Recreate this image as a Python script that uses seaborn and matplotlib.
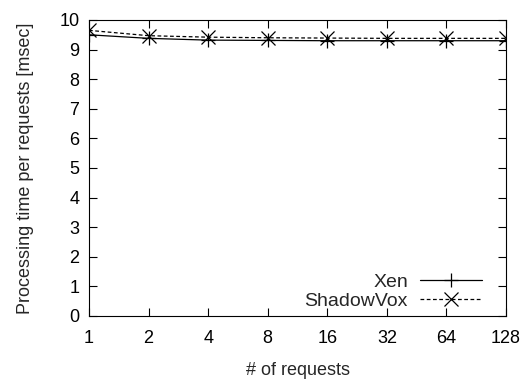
import matplotlib
matplotlib.use("Agg")
import matplotlib.pyplot as plt
import seaborn as sns
import pandas as pd

requests = [1, 2, 4, 8, 16, 32, 64, 128]
xen = [9.50, 9.38, 9.32, 9.31, 9.30, 9.30, 9.30, 9.30]
shadowvox = [9.65, 9.47, 9.42, 9.40, 9.39, 9.38, 9.38, 9.38]
yticks = list(range(0, 11))

sns.set_theme(style="ticks")
plt.rcParams['font.family'] = ['Liberation Sans', 'DejaVu Sans']

df = pd.DataFrame({
    "requests": requests * 2,
    "time": xen + shadowvox,
    "series": ["Xen"] * len(requests) + ["ShadowVox"] * len(requests),
})

fig = plt.figure(figsize=(5.28, 3.81), dpi=100)
ax = fig.add_axes([89/528, 1 - 316/381, (506-89)/528, (316-20)/381])

sns.lineplot(data=df, x="requests", y="time", hue="series", style="series",
             hue_order=["Xen", "ShadowVox"],
             palette={"Xen": "black", "ShadowVox": "black"},
             dashes={"Xen": "", "ShadowVox": (3, 2)},
             markers={"Xen": "+", "ShadowVox": "x"},
             linewidth=0.9, markersize=10, markeredgewidth=0.9,
             markeredgecolor="black",
             ax=ax, legend=False)

ax.set_xscale("log", base=2)
ax.set_xlim(1, 128)
ax.set_ylim(0, 10)
ax.set_xticks(requests)
ax.set_xticklabels([str(r) for r in requests])
ax.xaxis.set_minor_locator(matplotlib.ticker.NullLocator())
ax.set_yticks(yticks)
ax.set_yticklabels([str(t) for t in yticks])

ax.tick_params(direction="in", top=True, right=True, length=6, width=0.8,
               labelsize=13, colors="black")
ax.tick_params(axis="x", pad=10)
ax.tick_params(axis="y", pad=7)
for s in ax.spines.values():
    s.set_linewidth(0.8)
    s.set_color("black")

ax.set_xlabel("# of requests", fontsize=13, labelpad=11)
ax.set_ylabel("Processing time per requests [msec]", fontsize=13, labelpad=18)

from matplotlib.lines import Line2D
handles = [
    Line2D([], [], color="black", lw=0.9, marker="+", markersize=10, markeredgewidth=0.9),
    Line2D([], [], color="black", lw=0.9, ls=(0, (3, 2)), marker="x", markersize=10, markeredgewidth=0.9),
]
ax.legend(handles, ["Xen", "ShadowVox"], loc="lower right", frameon=False,
          markerfirst=False, fontsize=14, handlelength=3.2, handletextpad=0.6,
          labelspacing=0.1, borderaxespad=0, borderpad=0,
          bbox_to_anchor=(0.942, 0.02))

fig.savefig("out.png", dpi=100)
